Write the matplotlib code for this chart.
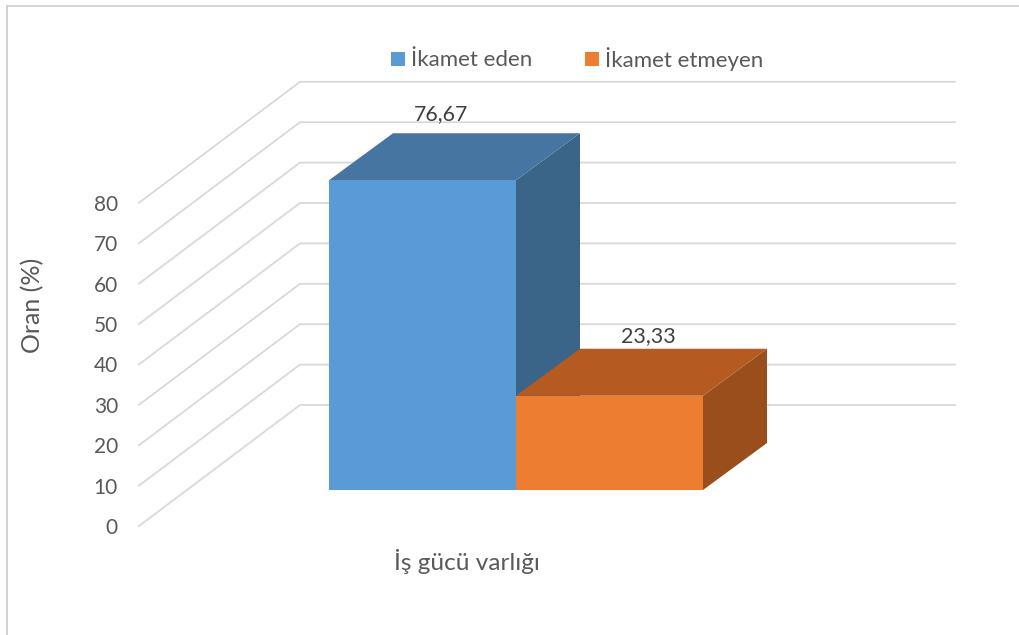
import matplotlib
matplotlib.use("Agg")
import matplotlib.pyplot as plt
from matplotlib.patches import Polygon, Rectangle
from matplotlib.lines import Line2D

series = ["İkamet eden", "İkamet etmeyen"]
values = [76.67, 23.33]
value_labels = ["76,67", "23,33"]
yticks = [0, 10, 20, 30, 40, 50, 60, 70, 80]
ylabel = "Oran (%)"
category = "İş gücü varlığı"
front_colors = ["#5B9BD5", "#ED7D31"]
top_colors = ["#4675A1", "#B55A20"]
side_colors = ["#3A6488", "#994E1C"]

W, H = 1019, 635
PX_PER_UNIT = 4.04
Y0 = 526
plt.rcParams["font.family"] = ["Lato", "DejaVu Sans"]

fig = plt.figure(figsize=(W / 100, H / 100), dpi=100, facecolor="white")
ax = fig.add_axes([0, 0, 1, 1])
ax.set_xlim(0, W)
ax.set_ylim((Y0 - H) / PX_PER_UNIT, Y0 / PX_PER_UNIT)
ax.axis("off")


def dy(px):
    return px / PX_PER_UNIT


GRID = "#D9D9D9"
TXT = "#595959"
ax.add_line(Line2D([7, 7], [dy(Y0 - H), dy(Y0 - 6)], color="#D0D0D0", lw=1.4))
ax.add_line(Line2D([7, W], [dy(Y0 - 6), dy(Y0 - 6)], color="#D0D0D0", lw=1.2))

WALL_DX, WALL_DY = 161, 121
RIGHT = 955
for t in yticks:
    ax.add_line(Line2D([139, 139 + WALL_DX, RIGHT], [t, t + dy(WALL_DY), t + dy(WALL_DY)],
                       color=GRID, lw=1.3))
    ax.text(118, t - 0.5, str(t), ha="right", va="center", fontsize=15, color=TXT)

ax.text(33, dy(Y0 - 305), ylabel, rotation=90, ha="center", va="center", fontsize=18, color=TXT)

# bars: front plane starts at a depth offset from the wall's front edge
FRONT_Y = dy(36)
DX, DY = 64, dy(47)
edges = [329, 516, 703]
label_dx = [18.5, 38.5]
label_dy = [19, 13]
for i, v in enumerate(values):
    x0, x1 = edges[i], edges[i + 1]
    b, t = FRONT_Y, FRONT_Y + v
    ax.add_patch(Polygon([(x1, b), (x1 + DX, b + DY), (x1 + DX, t + DY), (x1, t)],
                         fc=side_colors[i], ec="none", zorder=3 + i))
    ax.add_patch(Polygon([(x0, t), (x1, t), (x1 + DX, t + DY), (x0 + DX, t + DY)],
                         fc=top_colors[i], ec="none", zorder=3 + i))
    ax.add_patch(Rectangle((x0, b), x1 - x0, v, fc=front_colors[i], ec="none", zorder=4 + i))
    ax.text((x0 + x1) / 2 + label_dx[i], t + DY + dy(label_dy[i]), value_labels[i],
            ha="center", va="center", fontsize=15.4, color="#404040", zorder=8)

ax.text(467, dy(Y0 - 561), category, ha="center", va="center", fontsize=17.6, color=TXT)

# legend
LEG_Y = dy(Y0 - 59)
for x, name, col in zip([391, 585], series, front_colors):
    ax.add_patch(Rectangle((x, LEG_Y - dy(7)), 14, dy(14), fc=col, ec="none"))
    ax.text(x + 20, LEG_Y - dy(0.5), name, ha="left", va="center", fontsize=16, color=TXT)

fig.savefig("out.png", dpi=100)
